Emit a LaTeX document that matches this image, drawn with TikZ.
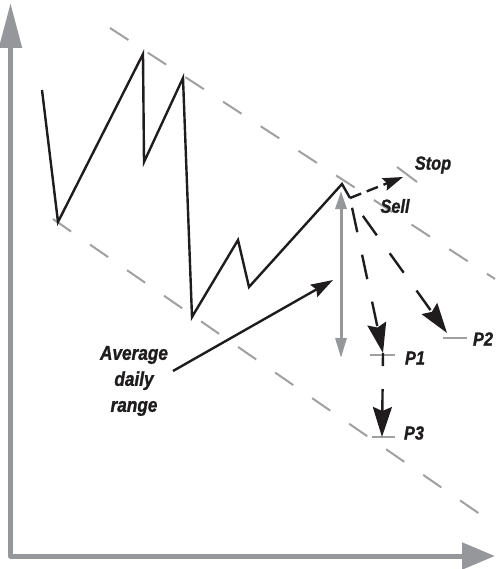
\documentclass[tikz,border=0pt]{standalone}
\usepackage{fontspec}
\newfontfamily\lblfont[FakeStretch=0.86,BoldItalicFeatures={FakeBold=1.2}]{Liberation Sans}
\usetikzlibrary{arrows.meta}
\definecolor{AxisGray}{RGB}{150,151,155}
\definecolor{ChanGray}{RGB}{160,160,162}
\definecolor{InkBlack}{RGB}{30,28,28}

\begin{document}
\begin{tikzpicture}[x=1pt,y=-1pt,
lbl/.style={font=\lblfont\bfseries\itshape\fontsize{19}{26}\selectfont,inner sep=0pt,text=InkBlack},
px/.style={line width=2.4pt,InkBlack,line join=miter},
chan/.style={line width=2pt,ChanGray,dash pattern=on 22pt off 23pt},
tck/.style={line width=2pt,ChanGray},
dsh/.style={line width=2.4pt,InkBlack,dash pattern=on 25pt off 23pt,-{Stealth[length=30pt,width=19pt,inset=4pt]}}
]
\useasboundingbox (0,0) rectangle (495,569);
% axes
\coordinate (orig) at (10.5,556);
\coordinate (ytop) at (10.5,3);
\coordinate (xend) at (495,556);
\draw[line width=5pt,AxisGray,line join=round,{Triangle[length=45pt,width=22pt]}-{Triangle[length=33pt,width=26pt]}] (ytop) -- (orig) -- (xend);
% channel
\draw[chan] (110,28) -- (495,279);
\draw[chan] (53,219) -- (487,519);
% price
\coordinate (top) at (342,184);
\coordinate (sell) at (350,198);
\draw[px] (42,90) -- (58,222) -- (143,54) -- (144,162) -- (183,78) -- (192,317)
  -- (238,240) -- (249,287) -- (top) -- (sell);
% levels
\coordinate (stp) at (403,177);
\coordinate (p1) at (383,353);
\coordinate (p2) at (447,333);
\coordinate (p3) at (382,437);
\draw[tck] (397,167) -- (417,182);
\draw[tck] (370,355) -- (395,355);
\draw[tck] (443,338) -- (467,338);
\draw[tck] (372,437) -- (395,437);
% range
\coordinate (rtop) at (341,191);
\coordinate (rbot) at (341,358);
\draw[line width=3pt,AxisGray,{Triangle[length=18pt,width=11pt]}-{Triangle[length=20pt,width=11pt]}] (rtop) -- (rbot);
% moves
\draw[line width=2.4pt,InkBlack,dash pattern=on 12pt off 6pt,-{Stealth[length=20pt,width=13pt,inset=3pt]}] (sell) -- (stp);
\draw[dsh,dash phase=38pt] (sell) -- (p1);
\draw[dsh,dash pattern=on 24pt off 22pt,dash phase=24pt] (sell) -- (p2);
\draw[dsh,dash phase=12pt] (p1) -- (p3);
% labels
\node[lbl] (stop) at (433,165) {Stop};
\node[lbl] (sl) at (395,206) {Sell};
\node[lbl] (l1) at (415,358) {P1};
\node[lbl] (l2) at (483,339) {P2};
\node[lbl] (l3) at (414,433) {P3};
\node[lbl,align=center,font=\lblfont\bfseries\itshape\fontsize{20}{26}\selectfont] (avg) at (134,381) {Average\\daily\\range};
\coordinate (avgfrom) at (173,371);
\coordinate (avgto) at (333,280);
\draw[line width=2.4pt,InkBlack,-{Stealth[length=22pt,width=14pt,inset=3pt]}] (avgfrom) -- (avgto);
\end{tikzpicture}
\end{document}
